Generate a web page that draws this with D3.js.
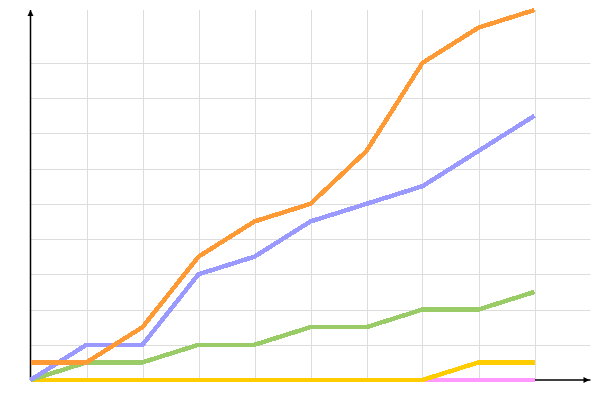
<!DOCTYPE html>
<html>
<head>
<meta charset="utf-8">
<script src="https://cdn.jsdelivr.net/npm/d3@7"></script>
<style>
html,body{margin:0;padding:0;background:#fff;}
svg{display:block;}
</style>
</head>
<body>
<svg id="chart" width="600" height="400"></svg>
<script>
// Data
const categories = [0, 1, 2, 3, 4, 5, 6, 7, 8, 9];
const orangeValues = [1, 1, 3, 7, 9, 10, 13, 18, 20, 21];
const blueValues   = [0, 2, 2, 6, 7, 9, 10, 11, 13, 15];
const greenValues  = [0, 1, 1, 2, 2, 3, 3, 4, 4, 5];
const yellowValues = [0, 0, 0, 0, 0, 0, 0, 0, 1, 1];
const pinkValues   = [0, 0, 0, 0, 0, 0, 0, 0, 0, 0];
const yTicks = [2, 4, 6, 8, 10, 12, 14, 16, 18];
const xTicks = [1, 2, 3, 4, 5, 6, 7, 8, 9];

const series = [
  {name: "pink", values: pinkValues, color: "#ff99ff"},
  {name: "yellow", values: yellowValues, color: "#ffcc00"},
  {name: "green", values: greenValues, color: "#99cc66"},
  {name: "blue", values: blueValues, color: "#9999ff"},
  {name: "orange", values: orangeValues, color: "#ff9933"}
];

const svg = d3.select("#chart");
const x = d3.scaleLinear().domain([0, 10]).range([30.5, 590.5]);
const y = d3.scaleLinear().domain([0, 21]).range([380, 10]);

// gridlines
const grid = svg.append("g");
grid.selectAll("line.v").data(xTicks).enter().append("line")
  .attr("x1", d => Math.round(x(d)) + 0.5).attr("x2", d => Math.round(x(d)) + 0.5)
  .attr("y1", y(21)).attr("y2", y(0))
  .attr("stroke", "#dddddd").attr("stroke-width", 1);
grid.selectAll("line.h").data(yTicks).enter().append("line")
  .attr("x1", x(0)).attr("x2", x(10))
  .attr("y1", d => Math.round(y(d)) + 0.5).attr("y2", d => Math.round(y(d)) + 0.5)
  .attr("stroke", "#dddddd").attr("stroke-width", 1);

// axes
const ax = svg.append("g");
ax.append("line").attr("x1", x(0)).attr("x2", x(0)).attr("y1", y(0)).attr("y2", y(21))
  .attr("stroke", "#000").attr("stroke-width", 1.5);
ax.append("line").attr("x1", x(0)).attr("x2", x(10)).attr("y1", y(0)).attr("y2", y(0))
  .attr("stroke", "#000").attr("stroke-width", 1.5);
const ty = y(21), tx = x(0);
ax.append("path").attr("d", `M${tx},${ty} L${tx-3},${ty+6} L${tx+3},${ty+6} Z`).attr("fill", "#000");
const rx = x(10) - 1, ry = y(0);
ax.append("path").attr("d", `M${rx},${ry} L${rx-6},${ry-3} L${rx-6},${ry+3} Z`).attr("fill", "#000");

// lines (drawn over axes)
const line = d3.line().x((d, i) => x(categories[i])).y(d => y(d));
svg.append("g").selectAll("path").data(series).enter().append("path")
  .attr("d", d => line(d.values))
  .attr("fill", "none")
  .attr("stroke", d => d.color)
  .attr("stroke-width", 4.5)
  .attr("stroke-linejoin", "round")
  .attr("shape-rendering", "crispEdges");
</script>
</body>
</html>
